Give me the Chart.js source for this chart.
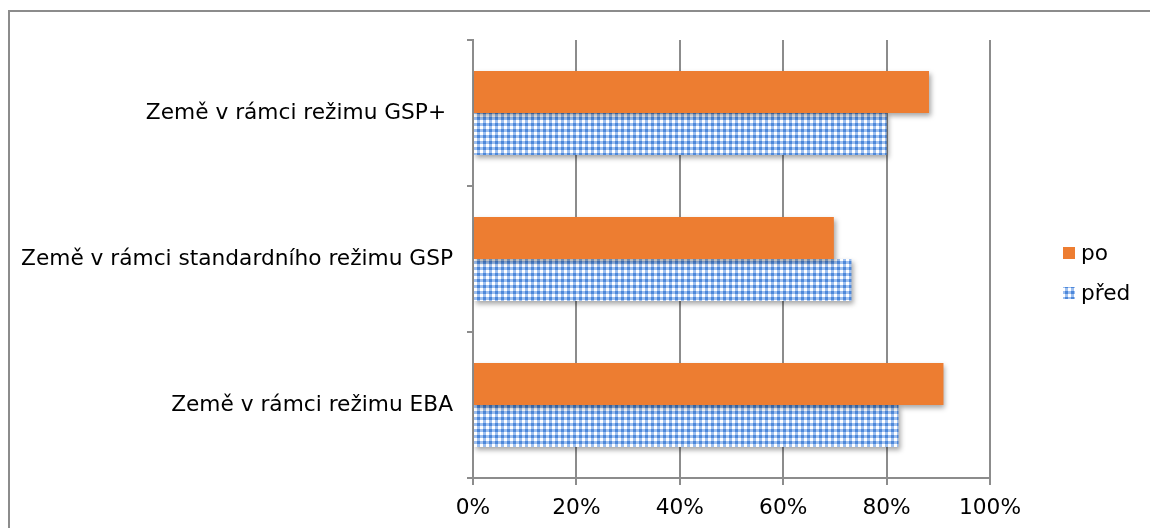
<!DOCTYPE html>
<html>
<head>
<meta charset="utf-8">
<script src="https://cdn.jsdelivr.net/npm/chart.js@4"></script>
<style>
  html, body { margin: 0; padding: 0; background: #fff; }
  #wrap { position: relative; width: 1150px; height: 528px; overflow: hidden; }
  #frame { position: absolute; left: 8px; top: 10px; width: 1200px; height: 600px;
           border-left: 2px solid #8c8c8c; border-top: 2px solid #8c8c8c; box-sizing: border-box; }
  canvas { position: absolute; left: 0; top: 0; }
</style>
</head>
<body>
<div id="wrap">
  <div id="frame"></div>
  <canvas id="c" width="1150" height="528"></canvas>
</div>
<script>
const categories = ["Země v rámci režimu GSP+ ", "Země v rámci standardního režimu GSP", "Země v rámci režimu EBA"];
const seriesNames = ["po", "před"];
const poValues = [88.2, 69.8, 91.0];
const predValues = [80.0, 73.2, 82.3];
const tickValues = [0, 20, 40, 60, 80, 100];

const FONT = "'DejaVu Sans', Verdana, sans-serif";
const FSIZE = 21.7;
const ORANGE = "#ED7D31";
const GRID = "#8c8c8c";

function makePattern() {
  const t = document.createElement("canvas");
  t.width = 6; t.height = 6;
  const g = t.getContext("2d");
  g.fillStyle = "#9fc0ef"; g.fillRect(0, 0, 6, 6);
  g.fillStyle = "#4d88da"; g.fillRect(3, 3, 3, 3);
  g.fillStyle = "#ffffff"; g.fillRect(0, 0, 3, 3);
  return document.getElementById("c").getContext("2d").createPattern(t, "repeat");
}
const pattern = makePattern();

const shadowPlugin = {
  id: "shadow",
  beforeDatasetsDraw(chart) {
    const ctx = chart.ctx;
    ctx.save();
    ctx.shadowColor = "rgba(0,0,0,0.35)";
    ctx.shadowBlur = 5;
    ctx.shadowOffsetX = 2;
    ctx.shadowOffsetY = 3;
  },
  afterDatasetsDraw(chart) { chart.ctx.restore(); }
};

const legendPlugin = {
  id: "customLegend",
  afterDraw(chart) {
    const ctx = chart.ctx;
    ctx.save();
    ctx.font = FSIZE + "px " + FONT;
    ctx.textBaseline = "middle";
    ctx.textAlign = "left";
    const x = 1063, y0 = 253, step = 40;
    chart.data.datasets.forEach((ds, i) => {
      const y = y0 + i * step;
      ctx.fillStyle = ds.backgroundColor;
      ctx.fillRect(x, y - 6, 12, 12);
      ctx.fillStyle = "#000";
      ctx.fillText(ds.label, x + 18, y + 1);
    });
    ctx.restore();
  }
};

new Chart(document.getElementById("c"), {
  type: "bar",
  data: {
    labels: categories,
    datasets: [
      { label: seriesNames[0], data: poValues, backgroundColor: ORANGE },
      { label: seriesNames[1], data: predValues, backgroundColor: pattern }
    ]
  },
  options: {
    indexAxis: "y",
    responsive: false,
    animation: false,
    devicePixelRatio: 1,
    layout: { padding: { top: 40, right: 160, left: 0, bottom: 0 } },
    datasets: { bar: { categoryPercentage: 0.575, barPercentage: 1.0, borderWidth: 0 } },
    plugins: { legend: { display: false }, tooltip: { enabled: false } },
    scales: {
      x: {
        min: 0, max: 100,
        afterBuildTicks(scale) { scale.ticks = tickValues.map(v => ({ value: v })); },
        afterFit(scale) { scale.height = 50; },
        grid: { color: GRID, lineWidth: 2, tickLength: 7, drawTicks: true },
        border: { color: GRID, width: 2 },
        ticks: { color: "#000", padding: 10, font: { family: FONT, size: FSIZE }, callback: v => v + "%" }
      },
      y: {
        afterFit(scale) { scale.width = 473; },
        grid: { offset: true, drawOnChartArea: false, color: GRID, lineWidth: 2, tickLength: 6 },
        border: { color: GRID, width: 2 },
        ticks: { color: "#000", padding: 14, font: { family: FONT, size: FSIZE } }
      }
    }
  },
  plugins: [shadowPlugin, legendPlugin]
});
</script>
</body>
</html>
